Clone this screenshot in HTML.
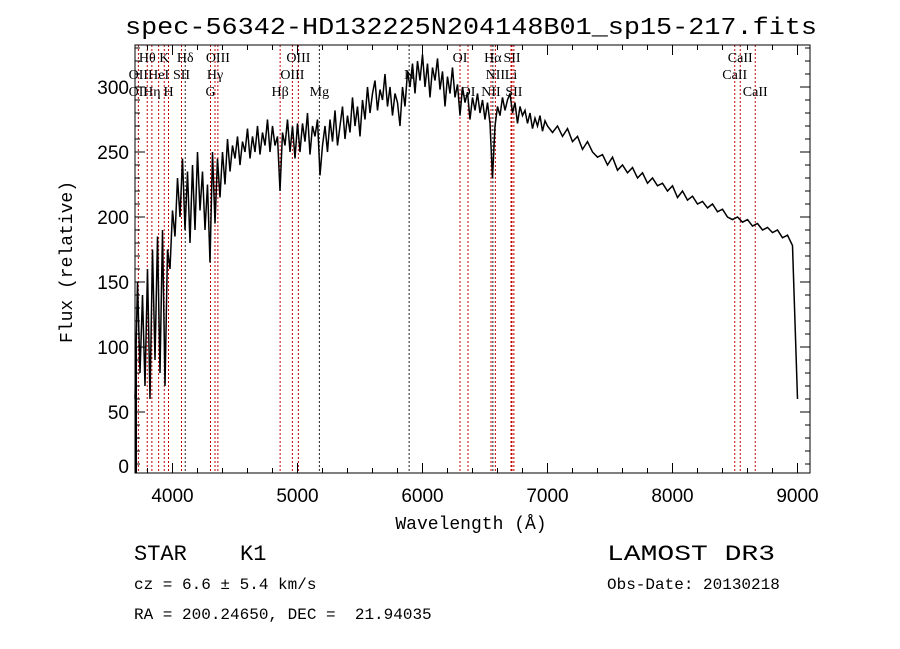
<!DOCTYPE html>
<html><head><meta charset="utf-8"><style>
html,body{margin:0;padding:0;background:#fff;}
svg{display:block;}
</style></head><body>
<svg id="chart" width="900" height="649" viewBox="0 0 900 649" xmlns="http://www.w3.org/2000/svg">
<rect width="900" height="649" fill="#fff"/>
<text x="471" y="34" text-anchor="middle" font-family="Liberation Mono, monospace" font-size="24" textLength="692" lengthAdjust="spacingAndGlyphs">spec-56342-HD132225N204148B01_sp15-217.fits</text>
<g id="lines"></g>
<g id="linelabels" font-family="Liberation Serif, serif" font-size="14"></g>
<g id="spec"></g>
<g id="axes"></g>
<text x="471" y="529" text-anchor="middle" font-family="Liberation Mono, monospace" font-size="18">Wavelength (Å)</text>
<text transform="translate(72,262) rotate(-90)" text-anchor="middle" font-family="Liberation Mono, monospace" font-size="18">Flux (relative)</text>
<text x="134" y="560" font-family="Liberation Mono, monospace" font-size="22">STAR</text>
<text x="240" y="560" font-family="Liberation Mono, monospace" font-size="22">K1</text>
<text x="607" y="560" font-family="Liberation Mono, monospace" font-size="22" textLength="168" lengthAdjust="spacingAndGlyphs">LAMOST DR3</text>
<text x="134" y="589" font-family="Liberation Mono, monospace" font-size="16" xml:space="preserve" style="white-space:pre">cz = 6.6 ± 5.4 km/s</text>
<text x="607" y="589" font-family="Liberation Mono, monospace" font-size="16">Obs-Date: 20130218</text>
<text x="134" y="619" font-family="Liberation Mono, monospace" font-size="16" xml:space="preserve" style="white-space:pre">RA = 200.24650, DEC =  21.94035</text>
</svg>
<script>
const wavelengths=[3700,3720,3740,3760,3780,3800,3820,3840,3860,3880,3900,3920,3940,3960,3980,4000,4020,4040,4060,4080,4100,4120,4140,4160,4180,4200,4220,4240,4260,4280,4300,4320,4340,4360,4380,4400,4420,4440,4460,4480,4500,4520,4540,4560,4580,4600,4620,4640,4660,4680,4700,4720,4740,4760,4780,4800,4820,4840,4860,4880,4900,4920,4940,4960,4980,5000,
5020,5040,5060,5080,5100,5120,5140,5160,5180,5200,5220,5240,5260,5280,5300,5320,5340,5360,5380,5400,5420,5440,5460,5480,5500,5520,5540,5560,5580,5600,5620,5640,5660,5680,5700,5720,5740,5760,5780,5800,5820,5840,5860,5880,5900,5920,5940,5960,5980,6000,6020,6040,6060,6080,6100,6120,6140,6160,6180,6200,6220,6240,6260,6280,6300,6320,6340,6360,6380,6400,6420,6440,6460,6480,6500,6520,6540,6560,6580,6600,6620,6640,6660,6680,6700,6720,6740,6760,6780,6800,6820,6840,6860,6880,6900,6920,6940,6960,6980,7000,
7040,7080,7120,7160,7200,7240,7280,7320,7360,7400,7440,7480,7520,7560,7600,7640,7680,7720,7760,7800,7840,7880,7920,7960,8000,8040,8080,8120,8160,8200,8240,8280,8320,8360,8400,8440,8480,8520,8560,8600,8640,8680,8720,8760,8800,8840,8880,8920,8960,9000,9005];
const fluxValues=[60,150,80,140,70,160,60,175,90,185,80,190,70,175,160,205,185,230,200,245,190,235,180,240,190,250,205,235,190,225,165,250,195,245,215,250,225,260,235,255,245,262,240,258,250,268,245,262,250,270,248,265,255,275,250,270,255,262,220,265,255,275,250,270,245,272,
250,272,258,280,248,270,262,275,232,255,270,250,275,258,282,255,270,285,260,278,265,292,270,285,262,290,275,300,280,295,305,282,298,290,310,285,300,278,295,288,270,300,285,312,300,318,295,320,305,325,300,318,292,315,305,322,298,312,285,308,295,315,292,302,278,300,288,296,275,292,282,295,280,290,275,288,272,230,270,285,278,292,282,290,295,280,288,272,285,278,282,272,280,268,276,270,278,266,274,270,
265,270,262,268,258,262,252,258,250,246,248,240,246,236,240,234,238,230,234,226,230,224,226,220,224,215,220,213,216,210,212,207,210,204,206,200,198,200,196,198,193,195,190,192,188,190,184,186,178,60];
const xTickValues=[4000,5000,6000,7000,8000,9000];
const yTickValues=[0,50,100,150,200,250,300];
const lineWaves=[3727,3798,3835,3889,3934,3968,4072,4102,4304,4340,4363,4861,4959,5007,5175,5893,6300,6364,6548,6563,6583,6708,6716,6731,8498,8542,8662];
const lineLabels=[["Hθ",3798,1],["K",3934,1],["Hδ",4102,1],["OIII",4363,1],["OIII",5007,1],["OI",6300,1],["Hα",6563,1],["SII",6716,1],["CaII",8542,1],
["OII",3727,2],["HeI",3889,2],["SII",4072,2],["Hγ",4340,2],["OIII",4959,2],["N",5893,2],["NII",6583,2],["Li",6708,2],["CaII",8498,2],
["OII",3727,3],["Hη",3835,3],["H",3968,3],["G",4304,3],["Hβ",4861,3],["Mg",5175,3],["OI",6364,3],["NII",6548,3],["SII",6731,3],["CaII",8662,3]];
const blackLines=[4102,5175,5893,6563];

const X0=135,XR=810,YT=45,YB=473;
function xs(w){return X0+(w-3700)*0.125;}
function ys(v){return 477-v*1.3;}
const NS='http://www.w3.org/2000/svg';
function mk(t,attrs,parent){const e=document.createElementNS(NS,t);for(const k in attrs)e.setAttribute(k,attrs[k]);parent.appendChild(e);return e;}

const gl=document.getElementById('lines');
lineWaves.forEach(w=>{
  const l=mk('line',{x1:xs(w),x2:xs(w),y1:YT,y2:YB,stroke:blackLines.includes(w)?'#222':'#c00000','stroke-width':1,'stroke-dasharray':'2,2'},gl);
  
  
});
const glab=document.getElementById('linelabels');
lineLabels.forEach(([t,w,r])=>{
  const e=mk('text',{x:xs(w),y:[0,62,79,96][r],'text-anchor':'middle'},glab);
  e.textContent=t;
  
  
});

const gs=document.getElementById('spec');
let d='';
wavelengths.forEach((w,i)=>{const yv=Math.min(YB,Math.max(YT,ys(fluxValues[i])));d+=(i?'L':'M')+xs(w).toFixed(1)+','+yv.toFixed(1);});
const p=mk('path',{d:d,fill:'none',stroke:'#000','stroke-width':1.5,'stroke-linejoin':'miter'},gs);



const ga=document.getElementById('axes');
const fr=mk('rect',{x:X0,y:YT,width:XR-X0,height:YB-YT,fill:'none',stroke:'#000','stroke-width':1},ga);


for(let w=3800;w<=9100;w+=200){
  const major=w%1000===0,len=major?10:5;
  mk('line',{x1:xs(w),x2:xs(w),y1:YB,y2:YB-len,stroke:'#000'},ga);
  mk('line',{x1:xs(w),x2:xs(w),y1:YT,y2:YT+len,stroke:'#000'},ga);
}
xTickValues.forEach(v=>{
  const t=mk('text',{x:xs(v),y:502,'text-anchor':'middle','font-family':'Liberation Sans, sans-serif','font-size':19},ga);
  t.textContent=v;
  
  
});
for(let v=10;v<=330;v+=10){
  const major=v%50===0,len=major?10:5;
  mk('line',{x1:X0,x2:X0+len,y1:ys(v),y2:ys(v),stroke:'#000'},ga);
  mk('line',{x1:XR,x2:XR-len,y1:ys(v),y2:ys(v),stroke:'#000'},ga);
}
yTickValues.forEach(v=>{
  const t=mk('text',{x:129,y:Math.min(ys(v)+7,473),'text-anchor':'end','font-family':'Liberation Sans, sans-serif','font-size':19},ga);
  t.textContent=v;
  
  
});
mk('line',{x1:X0+1,x2:X0+1,y1:ys(100),y2:YB,stroke:'#000','stroke-width':2},ga);
</script>
</body></html>
